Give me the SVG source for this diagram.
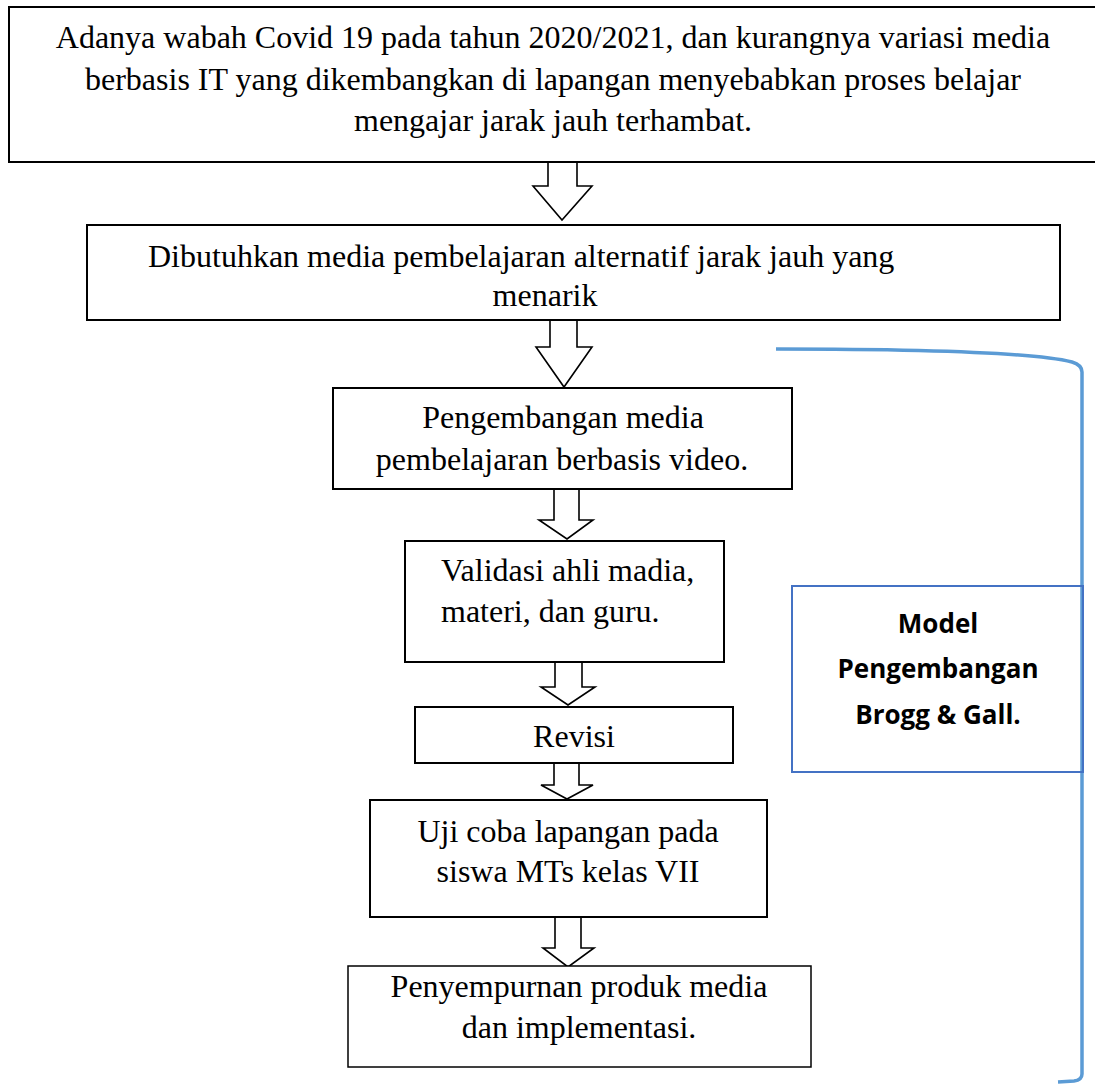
<svg xmlns="http://www.w3.org/2000/svg" width="1095" height="1086" viewBox="0 0 1095 1086">
<style>
.box{fill:#fff;stroke:#000;stroke-width:2}
.arr{fill:#fff;stroke:#000;stroke-width:1.6;stroke-linejoin:miter}
.t{font-family:"Liberation Serif","Times New Roman",serif;font-size:32px;fill:#000}
.c{text-anchor:middle}
.m{font-family:"Open Sans","Noto Sans",sans-serif;font-weight:bold;font-size:26px;fill:#000;text-anchor:middle}
</style>
<rect width="1095" height="1086" fill="#fff"/>
<g id="connectors">
<polygon class="arr" points="548,162 577,162 577,186 592,186 562,220 533,186 548,186"/>
<polygon class="arr" points="550,319 577,319 577,347 592,347 564,387 536,347 550,347"/>
<polygon class="arr" points="554,489 579,489 579,520 593,520 567,539 539,520 554,520"/>
<polygon class="arr" points="555,662 582,662 582,687 595,687 568,705 541,687 555,687"/>
<polygon class="arr" points="554,763 579,763 579,785 593,785 567,799 541,785 554,785"/>
<polygon class="arr" points="555,917 581,917 581,948 594,948 568,967 543,948 555,948"/>
<path d="M776,349 C900,349 1030,352 1072,362 Q1082,365 1082,372 L1082,1074 Q1082,1080 1074,1081 L1058,1082" fill="none" stroke="#5B9BD5" stroke-width="3.5"/>
</g>
<g id="n1">
<rect class="box" x="9" y="7" width="1100" height="155"/>
<text class="t c" x="553" y="48">Adanya wabah Covid 19 pada tahun 2020/2021, dan kurangnya variasi media</text>
<text class="t c" x="553" y="90">berbasis IT yang dikembangkan di lapangan menyebabkan proses belajar</text>
<text class="t c" x="553" y="131">mengajar jarak jauh terhambat.</text>
</g>
<g id="n2">
<rect class="box" x="87" y="225" width="973" height="95"/>
<text class="t" x="148" y="267">Dibutuhkan media pembelajaran alternatif jarak jauh yang</text>
<text class="t c" x="545" y="306">menarik</text>
</g>
<g id="n3">
<rect class="box" x="333" y="388" width="459" height="101"/>
<text class="t c" x="563" y="428">Pengembangan media</text>
<text class="t c" x="562" y="470">pembelajaran berbasis video.</text>
</g>
<g id="n4">
<rect class="box" x="405" y="541" width="319" height="121"/>
<text class="t" x="441" y="581">Validasi ahli madia,</text>
<text class="t" x="441" y="622">materi, dan guru.</text>
</g>
<g id="n5">
<rect class="box" x="415" y="707" width="318" height="56"/>
<text class="t c" x="574" y="747">Revisi</text>
</g>
<g id="n6">
<rect class="box" x="370" y="800" width="397" height="117"/>
<text class="t c" x="568" y="842">Uji coba lapangan pada</text>
<text class="t c" x="568" y="882">siswa MTs kelas VII</text>
</g>
<g id="n7">
<rect class="box" x="348" y="966" width="463" height="101" style="stroke-width:1.5"/>
<text class="t c" x="579" y="997">Penyempurnan produk media</text>
<text class="t c" x="579" y="1038">dan implementasi.</text>
</g>
<g id="model">
<rect x="792" y="586" width="291" height="186" fill="none" stroke="#4472C4" stroke-width="2"/>
<text class="m" x="938" y="633">Model</text>
<text class="m" x="938" y="678">Pengembangan</text>
<text class="m" x="938" y="724">Brogg &amp; Gall.</text>
</g>
</svg>
